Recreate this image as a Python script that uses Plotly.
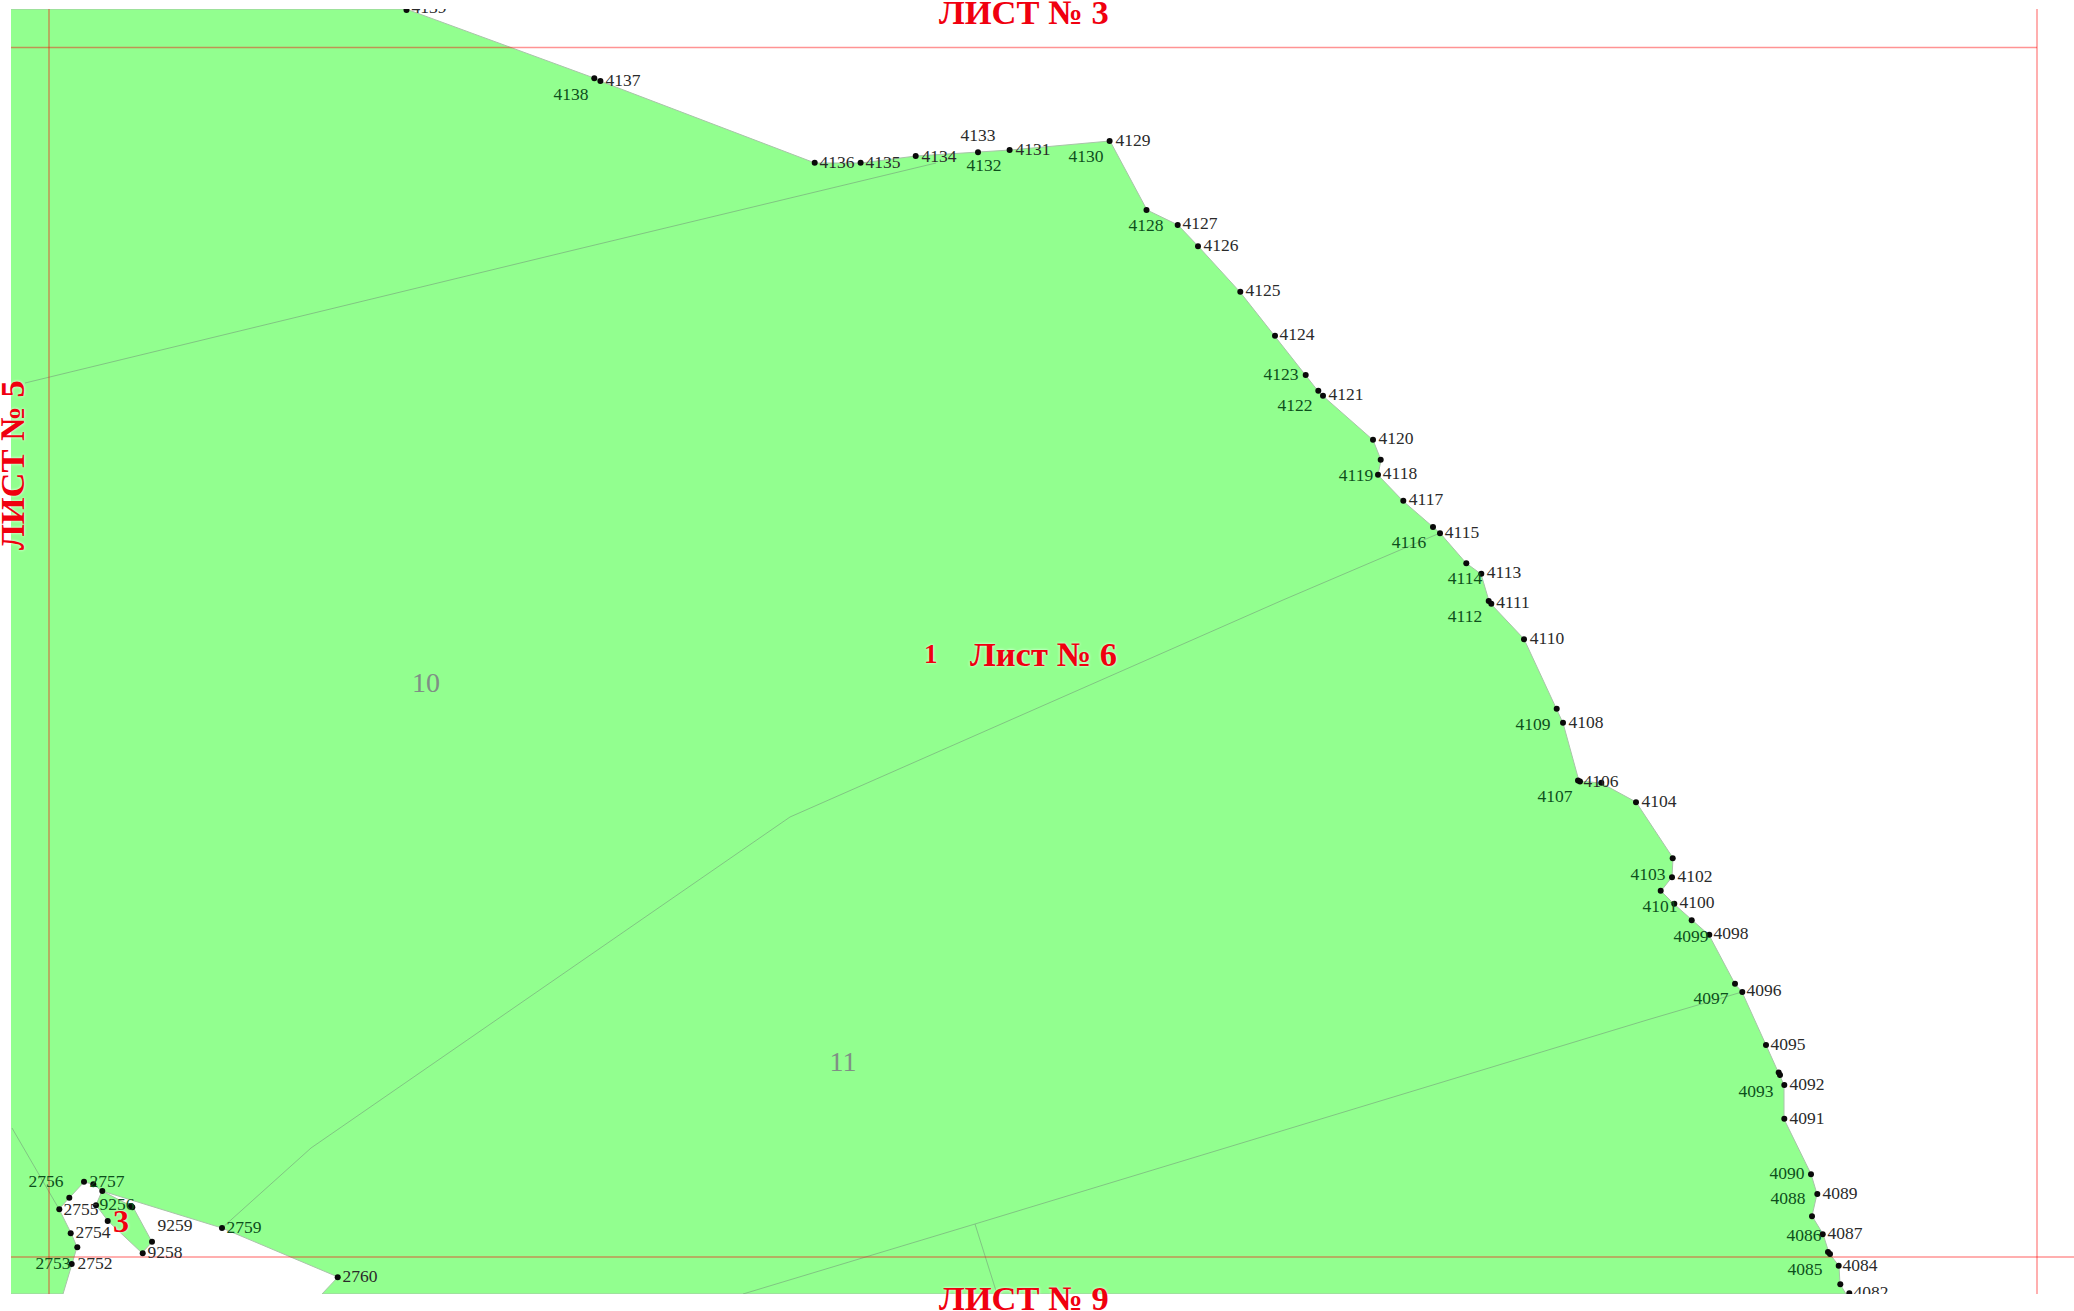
import plotly.graph_objects as go

# Boundary of the parcel, surveyed points in drawing units (order along the boundary)
outer_x = [11, 406, 594, 600, 815, 861, 916, 978, 1010, 1110, 1147, 1178, 1198, 1240, 1275, 1306, 1318, 1323, 1373, 1381, 1378, 1403, 1433, 1440, 1466, 1481, 1489, 1491, 1524, 1557, 1563, 1579, 1601, 1636, 1673, 1672, 1661, 1674, 1692, 1709, 1735, 1742, 1766, 1779, 1784, 1784, 1811, 1817, 1812, 1823, 1829, 1839, 1840, 1846, 322, 338, 222, 102, 93, 84, 69, 59, 71, 77, 72, 63, 11]
outer_y = [9, 9, 78, 81, 163, 163, 156, 152, 150, 141, 210, 225, 246, 292, 336, 375, 391, 396, 440, 460, 475, 501, 527, 533, 563, 574, 601, 604, 639, 709, 723, 781, 783, 802, 858, 877, 891, 904, 920, 935, 984, 992, 1045, 1074, 1085, 1119, 1174, 1194, 1216, 1234, 1253, 1266, 1284, 1294, 1294, 1277, 1228, 1191, 1184, 1182, 1198, 1209, 1233, 1247, 1264, 1294, 1294]

island_x = [102, 133, 152, 142, 108, 96, 102]
island_y = [1191, 1207, 1242, 1253, 1221, 1205, 1191]

# Parcel dividers
div_a_x = [25, 300, 574, 936]
div_a_y = [383, 316, 250, 163]
div_b_x = [1440, 1283, 790, 311, 222]
div_b_y = [533, 600, 817, 1148, 1228]
div_c_x = [1742, 1647, 975, 743]
div_c_y = [992, 1020, 1224, 1294]
div_d_x = [975, 997]
div_d_y = [1224, 1294]
div_e_x = [12, 59]
div_e_y = [1128, 1209]

# Sheet grid
grid_top_x = [11, 2037]
grid_top_y = [47.5, 47.5]
grid_bottom_x = [11, 2074]
grid_bottom_y = [1257, 1257]
grid_left_x = [49, 49]
grid_left_y = [9, 1294]
grid_right_x = [2037, 2037]
grid_right_y = [9, 1294]

# Survey points
dot_x = [406.5, 594.3, 600.4, 814.7, 860.6, 915.7, 978, 1009.6, 1109.6, 1146.5, 1177.7, 1198, 1240.3, 1275, 1305.7, 1318.3, 1323, 1373, 1380.7, 1378, 1403.3, 1433, 1440, 1466.3, 1481.3, 1488.7, 1491.3, 1524, 1556.7, 1563, 1578, 1580, 1601.3, 1636, 1672.7, 1672, 1660.7, 1674.3, 1691.7, 1709.3, 1735, 1742.3, 1766, 1778.7, 1780, 1784.3, 1784.3, 1811, 1817.3, 1812, 1822.7, 1828, 1830, 1838.7, 1840.3, 1849.3, 337.7, 222, 152, 142.7, 132.3, 131, 102.3, 93.3, 84, 69.3, 59.3, 96, 107.7, 70.7, 77.3, 71.7]
dot_y = [10, 78.3, 81, 162.7, 162.7, 156, 152.3, 150, 141, 210, 225, 246.3, 291.7, 335.7, 375, 390.7, 395.7, 439.7, 459.7, 474.7, 500.7, 527, 533.3, 563.3, 573.7, 601, 603.7, 639.3, 708.7, 722.7, 780.5, 781.5, 782.7, 802.3, 858.3, 877.3, 890.7, 903.7, 920.3, 934.7, 983.7, 992, 1045, 1072.5, 1075, 1085, 1118.7, 1174.3, 1194, 1216.3, 1234.3, 1252, 1254, 1265.7, 1284.3, 1293.3, 1277.3, 1228, 1241.7, 1253.3, 1207.3, 1206, 1191, 1184.3, 1181.7, 1197.7, 1209.3, 1205.3, 1221, 1233.3, 1247.3, 1264]

# Point numbers
white_ids = ["4139", "4137", "4136", "4135", "4134", "4133", "4131", "4129", "4127", "4126", "4125", "4124", "4121", "4120", "4118", "4117", "4115", "4113", "4111", "4110", "4108", "4106", "4104", "4102", "4100", "4098", "4096", "4095", "4092", "4091", "4089", "4087", "4084", "4082", "2755", "2754", "2752", "9259", "9258", "2760"]
white_x = [429, 623, 837, 883, 939, 978, 1033, 1133, 1200, 1221, 1263, 1297, 1346, 1396, 1400, 1426, 1462, 1504, 1513, 1547, 1586, 1601, 1659, 1695, 1697, 1731, 1764, 1788, 1807, 1807, 1840, 1845, 1860, 1871, 81, 93, 95, 175, 165, 360]
white_y = [9, 82, 164, 164, 158, 137, 151, 142, 225, 247, 292, 336, 396, 440, 475, 501, 534, 574, 604, 640, 724, 783, 803, 878, 904, 935, 992, 1046, 1086, 1120, 1195, 1235, 1267, 1294, 1211, 1234, 1265, 1227, 1254, 1278]

green_ids = ["4138", "4132", "4130", "4128", "4123", "4122", "4119", "4116", "4114", "4112", "4109", "4107", "4103", "4101", "4099", "4097", "4093", "4090", "4088", "4086", "4085", "2756", "2757", "9256", "2753", "2759"]
green_x = [571, 984, 1086, 1146, 1281, 1295, 1356, 1409, 1465, 1465, 1533, 1555, 1648, 1660, 1691, 1711, 1756, 1787, 1788, 1804, 1805, 46, 107, 117, 53, 244]
green_y = [96, 167, 158, 227, 376, 407, 477, 544, 580, 618, 726, 798, 876, 908, 938, 1000, 1093, 1175, 1200, 1237, 1271, 1183, 1183, 1206, 1265, 1229]

# Parcel numbers
parcel_names = ["10", "11"]
parcel_x = [426, 843]
parcel_y = [685, 1064]

# Red captions: text, x, y
sheet_names = ["ЛИСТ № 3", "ЛИСТ № 9", "Лист № 6", "1", "3"]
sheet_x = [1024, 1024, 1043, 931, 121]
sheet_y = [12, 1298, 654, 654, 1221]
sheet_size = [34.5, 34.5, 34.5, 27, 32]
left_name = "ЛИСТ № 5"
left_x = 12
left_y = 465

SERIF = "Liberation Serif"
GREEN = "#92FF8F"
X0, X1, Y0, Y1 = 11, 2074, 9, 1294


def paper_y(v):
    return (Y1 - v) / (Y1 - Y0)


fig = go.Figure()


def lines(x, y, color, width):
    fig.add_trace(go.Scatter(x=x, y=y, mode="lines", line=dict(color=color, width=width),
                             hoverinfo="skip", showlegend=False))


fig.add_trace(go.Scatter(x=outer_x, y=outer_y, mode="lines", fill="toself", fillcolor=GREEN,
                         line=dict(color="#A8C4A8", width=1), hoverinfo="skip", showlegend=False))
fig.add_trace(go.Scatter(x=island_x, y=island_y, mode="lines", fill="toself", fillcolor=GREEN,
                         line=dict(color="#A8C4A8", width=1), hoverinfo="skip", showlegend=False))

for dx, dy in [(div_a_x, div_a_y), (div_b_x, div_b_y), (div_c_x, div_c_y), (div_d_x, div_d_y), (div_e_x, div_e_y)]:
    lines(dx, dy, "#78AC7C", 0.7)

for gx, gy in [(grid_top_x, grid_top_y), (grid_bottom_x, grid_bottom_y), (grid_left_x, grid_left_y), (grid_right_x, grid_right_y)]:
    lines(gx, gy, "rgba(255,0,0,0.42)", 1.5)

fig.add_trace(go.Scatter(x=dot_x, y=dot_y, mode="markers", marker=dict(color="#0a0a0a", size=6),
                         hoverinfo="skip", showlegend=False))
fig.add_trace(go.Scatter(x=white_x, y=white_y, text=white_ids, mode="text", textposition="middle center",
                         textfont=dict(family=SERIF, size=17.5, color="#2a2a2a"), hoverinfo="skip", showlegend=False))
fig.add_trace(go.Scatter(x=green_x, y=green_y, text=green_ids, mode="text", textposition="middle center",
                         textfont=dict(family=SERIF, size=17.5, color="#0d4f1c"), hoverinfo="skip", showlegend=False))
fig.add_trace(go.Scatter(x=parcel_x, y=parcel_y, text=parcel_names, mode="text", textposition="middle center",
                         textfont=dict(family=SERIF, size=28, color="#7f8f85"), hoverinfo="skip", showlegend=False))

annotations = []
for t, x, y, s in zip(sheet_names, sheet_x, sheet_y, sheet_size):
    annotations.append(dict(text=f"<b>{t}</b>", x=x, xref="x", y=paper_y(y), yref="paper", showarrow=False,
                            xanchor="center", yanchor="middle",
                            font=dict(family=SERIF, size=s, color="#F0000F", shadow="0 0 3px #ffffff")))
annotations.append(dict(text=f"<b>{left_name}</b>", x=left_x, xref="x", y=paper_y(left_y), yref="paper",
                        showarrow=False, textangle=-90, xanchor="center", yanchor="middle",
                        font=dict(family=SERIF, size=34.5, color="#F0000F", shadow="0 0 3px #ffffff")))

fig.update_layout(
    width=2074, height=1311,
    margin=dict(l=X0, r=0, t=Y0, b=1311 - Y1, pad=0, autoexpand=False),
    paper_bgcolor="white", plot_bgcolor="white",
    hovermode=False, showlegend=False,
    annotations=annotations,
    xaxis=dict(range=[X0, X1], visible=False, fixedrange=True),
    yaxis=dict(range=[Y1, Y0], visible=False, fixedrange=True),
)

fig.write_html("out.html", config={"displayModeBar": False, "responsive": False},
               post_script="document.body.style.margin='0';document.body.style.overflow='hidden';")
